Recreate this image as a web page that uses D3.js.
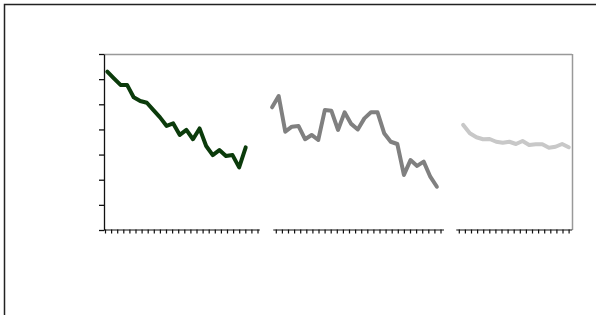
<!DOCTYPE html>
<html>
<head>
<meta charset="utf-8">
<script src="https://cdn.jsdelivr.net/npm/d3@7"></script>
<style>
  html, body { margin: 0; padding: 0; background: #fff; }
  svg { display: block; }
</style>
</head>
<body>
<script>
// ---- data ----
const seriesNames = ["A", "B", "C"];
const seriesColors = ["#0b3b0b", "#808080", "#c8c8c8"];
const groupStart = [0, 25, 54];           // category index where each series starts
const valuesA = [63.0, 60.3, 57.7, 57.7, 52.8, 51.3, 50.6, 47.7, 44.8, 41.4, 42.4,
                 37.8, 39.8, 36.1, 40.4, 33.4, 29.8, 31.8, 29.4, 29.8, 24.9, 32.9];
const valuesB = [48.8, 53.3, 39.1, 41.1, 41.4, 36.1, 37.8, 35.8, 47.7, 47.4, 39.8,
                 46.8, 42.2, 40.0, 44.4, 46.8, 46.8, 38.5, 35.1, 34.2, 21.9, 27.8,
                 25.5, 27.2, 21.2, 17.2];
const valuesC = [41.8, 38.5, 36.9, 36.1, 36.2, 35.1, 34.7, 35.1, 34.2, 35.4, 33.8,
                 34.1, 34.1, 32.7, 33.1, 34.2, 32.9];
const yTicks = [0, 10, 20, 30, 40, 50, 60, 70];
const xTickGroups = [[0, 25], [28, 55], [58, 76]]; // tick index ranges per axis segment
const xAxisExtents = [[-0.2, 25.3], [27.5, 55.5], [57.5, 76.5]];

const allSeries = [valuesA, valuesB, valuesC];

// ---- layout ----
const W = 596, H = 315;
const plot = { left: 104, right: 572, top: 54, bottom: 230 };

const svg = d3.select("body").append("svg").attr("width", W).attr("height", H);

// outer frame
svg.append("rect")
  .attr("x", 4.5).attr("y", 4.5).attr("width", W + 20).attr("height", H + 20)
  .attr("fill", "none").attr("stroke", "#222").attr("stroke-width", 1.5);

const x = d3.scaleLinear().domain([-0.5, 70.5]).range([plot.left, plot.right]);
const y = d3.scaleLinear().domain([0, 70]).range([plot.bottom, plot.top]);
const tickScale = d3.scaleLinear().domain([0, 76]).range([105, 568.6]);

// top and right plot borders
svg.append("line")
  .attr("x1", plot.left).attr("x2", plot.right)
  .attr("y1", plot.top + 0.5).attr("y2", plot.top + 0.5)
  .attr("stroke", "#999").attr("stroke-width", 1.5);
svg.append("line")
  .attr("x1", plot.right + 0.5).attr("x2", plot.right + 0.5)
  .attr("y1", plot.top).attr("y2", plot.bottom)
  .attr("stroke", "#999").attr("stroke-width", 1.5);

// y axis
const yAxis = svg.append("g")
  .attr("transform", `translate(${plot.left},0)`)
  .call(d3.axisLeft(y).tickValues(yTicks).tickSize(5).tickSizeOuter(0).tickFormat(""));
yAxis.selectAll("path,line").attr("stroke", "#111").attr("stroke-width", 1.3);

// x axis segments
xTickGroups.forEach((g, i) => {
  const [lo, hi] = xAxisExtents[i];
  const s = d3.scaleLinear().domain([lo, hi]).range([tickScale(lo), tickScale(hi)]);
  const ax = svg.append("g")
    .attr("transform", `translate(0,${plot.bottom - 0.5})`)
    .call(d3.axisBottom(s).tickValues(d3.range(g[0], g[1] + 1))
      .tickSize(4).tickSizeOuter(0).tickFormat(""));
  ax.selectAll("path,line").attr("stroke", "#111").attr("stroke-width", 1.2);
});

// lines
const line = d3.line()
  .x(d => x(d.i))
  .y(d => y(d.v));

allSeries.forEach((vals, k) => {
  const pts = vals.map((v, j) => ({ i: groupStart[k] + j, v }));
  svg.append("path")
    .datum(pts)
    .attr("d", line)
    .attr("fill", "none")
    .attr("stroke", seriesColors[k])
    .attr("stroke-width", 4)
    .attr("stroke-linejoin", "round")
    .attr("stroke-linecap", "round");
});
</script>
</body>
</html>
